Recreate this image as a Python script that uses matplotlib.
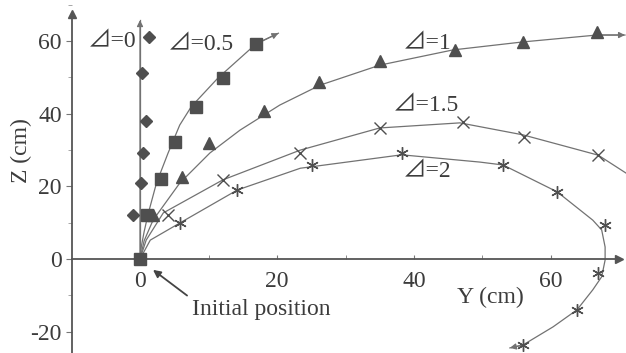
import numpy as np
import matplotlib.pyplot as plt
from matplotlib.ticker import MultipleLocator

plt.rcParams['font.family'] = ['Liberation Serif', 'DejaVu Sans']
plt.rcParams['axes.unicode_minus'] = False

# measured positions (Y, Z) in cm, one list pair per delta
d0_y = [-1.0, 0.2, 0.4, 0.9, 0.3, 1.3]
d0_z = [12.1, 21.0, 29.2, 38.0, 51.2, 61.2]

d05_y = [1.0, 3.1, 5.1, 8.2, 12.1, 16.9]
d05_z = [12.1, 22.0, 32.2, 41.9, 49.9, 59.2]

d1_y = [1.9, 6.1, 10.1, 18.1, 26.1, 35.0, 46.0, 55.9, 66.7]
d1_z = [12.1, 22.6, 32.0, 40.8, 48.8, 54.5, 57.6, 59.8, 62.5]

d15_y = [4.1, 12.1, 23.4, 35.0, 47.2, 56.0, 66.9]
d15_z = [12.1, 21.8, 29.2, 36.1, 37.7, 33.6, 28.6]

d2_y = [5.8, 14.2, 25.1, 38.2, 53.0, 60.9, 67.9, 66.9, 63.8, 55.9]
d2_z = [9.9, 19.0, 25.9, 29.2, 25.9, 18.5, 9.4, -3.9, -14.0, -23.7]

# model trajectories
c0_y = [0.0, 0.0]
c0_z = [0.0, 65.8]

c05_y = [0.0, 0.2, 0.6, 1.2, 2.4, 4.1, 5.8, 7.5, 11.4, 16.9, 20.2]
c05_z = [0.0, 3.5, 7.5, 12.5, 20.9, 29.2, 36.9, 42.0, 49.9, 59.2, 62.2]

c1_y = [0.0, 0.6, 1.9, 5.8, 10.2, 14.6, 20.4, 26.3, 35.0, 45.7, 55.9, 66.7, 70.8]
c1_z = [0.0, 5.0, 10.7, 20.9, 29.2, 35.5, 42.4, 47.9, 53.4, 57.6, 59.8, 61.7, 61.7]

c15_y = [0.0, 0.9, 3.4, 12.1, 23.4, 35.0, 46.7, 55.9, 66.9, 71.5]
c15_z = [0.0, 5.2, 12.7, 21.8, 30.0, 36.1, 37.5, 34.2, 28.6, 23.0]

c2_y = [0.0, 1.5, 5.8, 14.2, 23.4, 38.2, 49.6, 53.0, 60.9, 66.1, 67.4, 67.9,
        67.9, 67.4, 66.1, 63.8, 60.3, 55.9, 54.0]
c2_z = [0.0, 5.2, 9.9, 19.0, 25.0, 28.7, 26.7, 25.9, 18.5, 10.7, 8.0, 3.3,
        -0.3, -4.9, -8.5, -14.0, -18.7, -23.7, -24.5]

labels = ['\u22bf=0', '\u22bf=0.5', '\u22bf=1', '\u22bf=1.5', '\u22bf=2']

line_col = '#727272'
mark_col = '#4f4f4f'
text_col = '#3c3c3c'

fig = plt.figure(figsize=(6.26, 3.53), dpi=100)
ax = fig.add_axes([0, 0, 1, 1])
ax.set_xlim(-20.44, 70.95)
ax.set_ylim(-25.9, 71.35)

# axes drawn as crossing lines with arrow heads
for s in ['top', 'right']:
    ax.spines[s].set_visible(False)
ax.spines['left'].set_position(('data', -10))
ax.spines['bottom'].set_position(('data', 0))
ax.spines['left'].set_bounds(-26, 67)
ax.spines['bottom'].set_bounds(-10, 69.5)
for s in ['left', 'bottom']:
    ax.spines[s].set_color('#555555')
    ax.spines[s].set_linewidth(1.3)
ax.plot(-10, 67.5, marker='^', color='#555555', ms=6, clip_on=False)
ax.plot(70.0, 0, marker='>', color='#555555', ms=6, clip_on=False)

ax.xaxis.set_major_locator(plt.FixedLocator([0, 20, 40, 60]))
ax.xaxis.set_minor_locator(plt.FixedLocator([10, 30, 50]))
ax.yaxis.set_major_locator(MultipleLocator(20))
ax.yaxis.set_minor_locator(MultipleLocator(10))
ax.tick_params(axis='x', which='both', direction='in', length=3, color='#777777',
               labelsize=17, labelcolor=text_col, pad=9)
ax.tick_params(axis='y', which='major', direction='out', length=4, color='#777777',
               labelsize=17, labelcolor=text_col, pad=3)
ax.tick_params(axis='y', which='minor', direction='out', length=3, color='#999999')

# curves
curves = [(c0_y, c0_z, True), (c05_y, c05_z, True), (c1_y, c1_z, True),
          (c15_y, c15_z, False), (c2_y, c2_z, True)]
for cy, cz, arrow in curves:
    ax.plot(cy, cz, color=line_col, lw=0.9, zorder=2)
    if arrow:
        ax.annotate('', xy=(cy[-1], cz[-1]), xytext=(cy[-2], cz[-2]),
                    arrowprops=dict(arrowstyle='-|>', color=line_col, lw=0.9,
                                    mutation_scale=9, shrinkA=0, shrinkB=0))

# measurements
ax.plot(d0_y, d0_z, 'D', color=mark_col, ms=6.5, ls='none', zorder=3)
ax.plot(d05_y, d05_z, 's', color=mark_col, ms=8.5, ls='none', zorder=3)
ax.plot(d1_y, d1_z, '^', color=mark_col, ms=8, ls='none', zorder=3)
ax.plot(d15_y, d15_z, 'x', color=mark_col, ms=9, mew=1.0, ls='none', zorder=3)
ax.plot(d2_y, d2_z, marker=(6, 2, 0), color=mark_col, ms=9, mew=1.0, ls='none', zorder=3)
ax.plot(0, 0, 's', color=mark_col, ms=9, zorder=3)

# delta labels
lab_pos = [(-7.6, 59.8), (4.1, 59.2), (38.4, 59.5), (36.9, 42.4), (38.4, 24.0)]
for t, (lx, lz) in zip(labels, lab_pos):
    ax.text(lx, lz, t, fontsize=17, color=text_col, ha='left', va='center',
            family=['Liberation Serif', 'Noto Sans CJK JP'])

ax.text(-17.3, 30, 'Z (cm)', rotation=90, fontsize=17, color=text_col,
        ha='center', va='center')
ax.text(51.1, -10.5, 'Y (cm)', fontsize=17, color=text_col, ha='center', va='center')
ax.annotate('Initial position', xy=(1.9, -3.0), xytext=(7.6, -14.0),
            fontsize=17, color=text_col, ha='left', va='center',
            arrowprops=dict(arrowstyle='-|>', color='#444444', lw=1.3,
                            mutation_scale=11, shrinkA=2, shrinkB=0,
                            relpos=(0, 1.0)))

fig.savefig('out.png', dpi=100)
